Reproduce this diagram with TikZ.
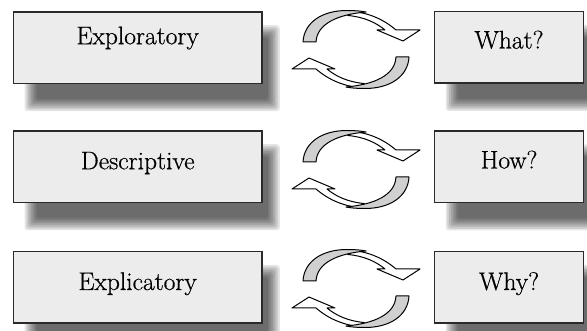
\documentclass[tikz,border=0pt]{standalone}
\usepackage{fontspec}
\newfontfamily\lblfont[FakeBold=0.6]{Latin Modern Roman}
\usetikzlibrary{calc,backgrounds}
\definecolor{boxfill}{HTML}{ECECEC}
\definecolor{boxline}{HTML}{2A2A2A}
\definecolor{crescent}{HTML}{D0D0D0}
\tikzset{
  cbox/.style={draw=boxline, line width=1.5pt, fill=boxfill, minimum height=71.5pt, inner sep=0pt},
  leftbox/.style={cbox, minimum width=248.7pt},
  rightbox/.style={cbox, minimum width=149.2pt},
  lbl/.style={anchor=base, inner sep=0pt, font=\lblfont\fontsize{25.5}{30}\selectfont},
  arw/.style={draw=black, line width=1pt, line join=round},
  cyc/.pic={
    \foreach \ang in {0,180}{
      \begin{scope}[rotate=\ang]
        \filldraw[arw, fill=white] (-12,-38.5) .. controls (12,-38.5) and (29,-29) .. (40,-19.5)
          -- (64,-19.5) -- (47,-8.5) -- (21,-19.5) -- (29,-19.5)
          .. controls (20,-27) and (8,-32.5) .. (-8,-34) -- cycle;
        \filldraw[arw, fill=crescent] (-53,-7.5) .. controls (-52,-27) and (-34,-39) .. (-9,-39)
          .. controls (-1,-39) and (5,-38.5) .. (10,-37.5)
          .. controls (-18,-35) and (-39,-26) .. (-40,-7.5) -- cycle;
      \end{scope}
    }
  }
}
\newcommand\dropshadow[1]{%
  \foreach \r in {6,4.3,2.6,0.9,-0.9,-2.6,-4.3,-6}{%
    \fill[black, opacity=0.1, rounded corners=3pt]
      ($(#1.north west)+(18-\r,20-\r)$) rectangle ($(#1.south east)+(11+\r,21+\r)$);
  }%
}
\begin{document}
\begin{tikzpicture}[x=1pt, y=-1pt]
  \useasboundingbox (0,0) rectangle (587,331);
  % boxes
  \node[leftbox]  (l1) at (137.65,47.75)  {};
  \node[leftbox]  (l2) at (137.65,166.75) {};
  \node[leftbox]  (l3) at (137.65,287.5)  {};
  \node[rightbox] (r1) at (509.1,47.5)    {};
  \node[rightbox] (r2) at (509.1,167)     {};
  \node[rightbox] (r3) at (509.1,287.5)   {};
  \begin{scope}[on background layer]
    \dropshadow{l1}\dropshadow{l2}\dropshadow{l3}
    \dropshadow{r1}\dropshadow{r2}\dropshadow{r3}
  \end{scope}
  % labels
  \node[lbl] (t1) at ($(l1.north)+(0,33)$)   {Exploratory};
  \node[lbl] (t2) at ($(l2.north)+(0,39)$)   {Descriptive};
  \node[lbl] (t3) at ($(l3.north)+(0,39)$)   {Explicatory};
  \node[lbl] (q1) at ($(r1.north)+(0,37.5)$) {What?};
  \node[lbl] (q2) at ($(r2.north)+(0,38)$)   {How?};
  \node[lbl] (q3) at ($(r3.north)+(0,39)$)   {Why?};
  % cycle arrows
  \coordinate (c1) at (356,49.5);
  \coordinate (c2) at (356,169.5);
  \coordinate (c3) at (356,288.5);
  \pic at (c1) {cyc};
  \pic at (c2) {cyc};
  \pic at (c3) {cyc};
\end{tikzpicture}
\end{document}
